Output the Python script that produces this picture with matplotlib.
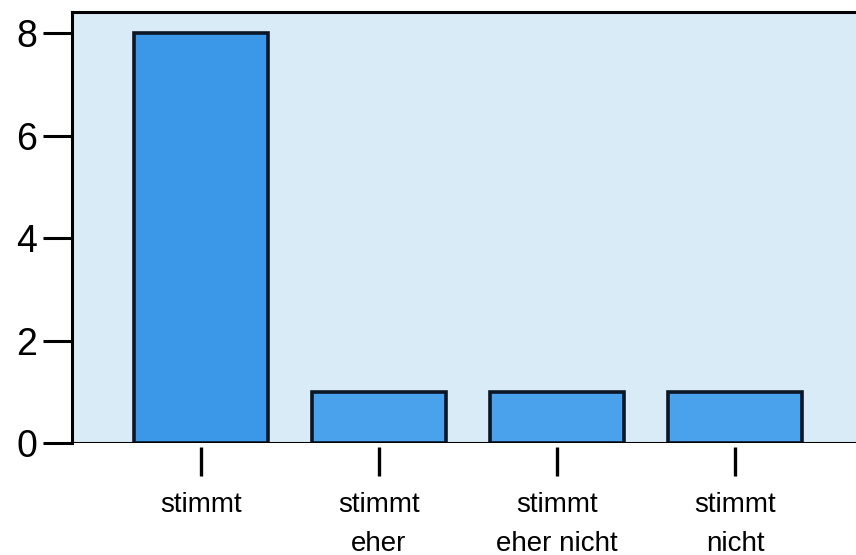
import matplotlib.pyplot as plt

# answer categories and counts
categories = ['stimmt', 'stimmt\neher', 'stimmt\neher nicht', 'stimmt\nnicht']
counts = [8, 1, 1, 1]
yticks = [0, 2, 4, 6, 8]

plt.rcParams['font.family'] = ['Liberation Sans', 'DejaVu Sans']

fig = plt.figure(figsize=(8.56, 5.55), dpi=100)
ax = fig.add_axes([0.0841, 0.2018, 0.9159, 0.7766])
ax.set_facecolor('#d9ebf7')

x = list(range(len(categories)))
colors = ['#3b98e8', '#4aa2ec', '#4aa2ec', '#4aa2ec']
ax.bar(x, counts, width=0.75, color=colors, edgecolor='#0b1626', linewidth=2.6, zorder=3)

# baseline at zero
ax.axhline(0, color='black', linewidth=2.2, zorder=4)

ax.set_xlim(-0.725, 3.68)
ax.set_ylim(0, 8.41)
ax.set_yticks(yticks)
ax.set_xticks(x)
ax.set_xticklabels(categories)

# x ticks hang a bit below the baseline
ax.spines['bottom'].set_position(('outward', 3))
ax.spines['bottom'].set_visible(False)
ax.spines['right'].set_visible(False)
ax.spines['top'].set_linewidth(2.2)
ax.spines['left'].set_linewidth(2.2)

ax.tick_params(axis='y', length=21, width=2.2, pad=4, labelsize=27)
ax.tick_params(axis='x', length=21, width=2.4, pad=11, labelsize=20)

# wider gap between the two label lines
for lbl in ax.get_xticklabels():
    lbl.set_linespacing(1.65)

fig.savefig('out.png', dpi=100, facecolor='white')
